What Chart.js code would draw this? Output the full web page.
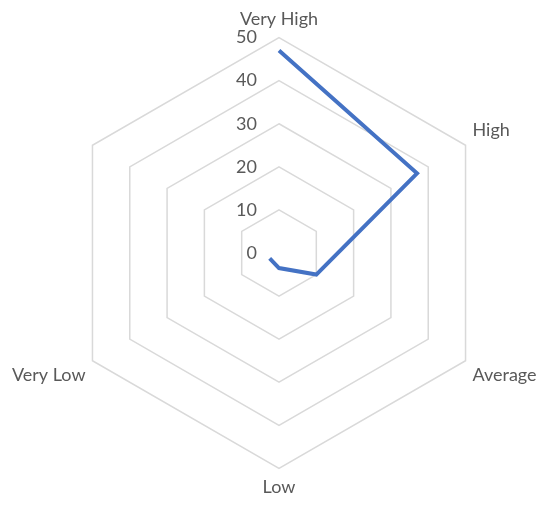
<!DOCTYPE html>
<html>
<head>
<meta charset="utf-8">
<script src="https://cdn.jsdelivr.net/npm/chart.js@4/dist/chart.umd.min.js"></script>
<style>
    html,body{margin:0;padding:0;background:#fff}
    #wrap{width:550px;height:512px}
</style>
</head>
<body>
<div id="wrap"><canvas id="chart"></canvas></div>
<script>
// values
const categories = ['Very High','High','Average','Low','Very Low','']
const seriesValues = [47,37,10,3.5,2.5,null]
const tickLabels = [0,10,20,30,40,50]

const textColor = '#595959'
const fontFamily = 'Lato, "Open Sans", sans-serif'

// excel puts the ring labels left of the top spoke, chart.js centres them, so draw them here
const leftTicks = {
    id: 'leftTicks',
    afterDraw(chart){
        let scale = chart.scales.r
        let ctx = chart.ctx
        ctx.save()
        ctx.font = '18px ' + fontFamily
        ctx.fillStyle = textColor
        ctx.textAlign = 'right'
        ctx.textBaseline = 'middle'
        tickLabels.map(v=>{
            let d = scale.getDistanceFromCenterForValue(v)
            ctx.fillText(String(v), scale.xCenter - 22, scale.yCenter - d)
        })
        ctx.restore()
    }
}

new Chart(document.getElementById('chart'),{
    type: 'radar',
    data: {
        labels: categories,
        datasets: [{
            data: seriesValues,
            borderColor: '#4472C4',
            borderWidth: 4,
            fill: false,
            pointRadius: 0,
            spanGaps: false,
            tension: 0
        }]
    },
    options: {
        responsive: true,
        maintainAspectRatio: false,
        animation: false,
        layout: {padding: {top: 8, bottom: 13, left: 3, right: 5}},
        plugins: {
            legend: {display: false},
            tooltip: {enabled: false}
        },
        scales: {
            r: {
                min: 0,
                max: 50,
                angleLines: {display: false},
                grid: {color: '#d9d9d9', lineWidth: 1.5},
                ticks: {
                    stepSize: 10,
                    display: false
                },
                pointLabels: {
                    color: textColor,
                    padding: 8,
                    font: {family: fontFamily, size: 18}
                }
            }
        }
    },
    plugins: [leftTicks]
})
</script>
</body>
</html>
